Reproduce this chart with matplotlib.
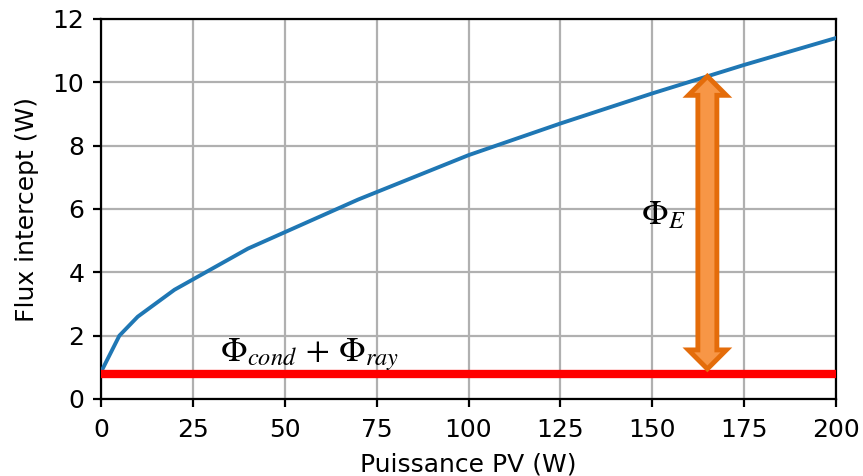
import numpy as np
import matplotlib
matplotlib.use("Agg")
import matplotlib.pyplot as plt
from matplotlib.patches import Polygon
from matplotlib.transforms import IdentityTransform

# Data
puissance = [0, 5, 10, 20, 40, 70, 100, 125, 150, 175, 200]
flux = [0.85, 2.0, 2.6, 3.45, 4.75, 6.3, 7.7, 8.7, 9.65, 10.55, 11.4]
flux_cond_ray = 0.8
arrow_x = 165
xticks = [0, 25, 50, 75, 100, 125, 150, 175, 200]
yticks = [0, 2, 4, 6, 8, 10, 12]

plt.rcParams['mathtext.fontset'] = 'stix'
fig = plt.figure(figsize=(8.63, 4.76), dpi=100)
ax = fig.add_axes([101/863, 1-399/476, 735/863, 380/476])

ax.plot(puissance, flux, color='#1f77b4', lw=2.8, zorder=3)
ax.plot([puissance[0], puissance[-1]], [flux_cond_ray, flux_cond_ray], color='#ff0000', lw=6, zorder=4, solid_capstyle='butt')

ax.set_xlim(0, 200)
ax.set_ylim(0, 12)
ax.set_xticks(xticks)
ax.set_yticks(yticks)
ax.grid(True, color='#b0b0b0', lw=1.6)
ax.set_axisbelow(True)
for s in ax.spines.values():
    s.set_linewidth(1.6)
ax.tick_params(labelsize=18, width=1.6, length=6)
ax.tick_params(axis='x', pad=8)
ax.tick_params(axis='y', pad=6)
ax.set_xlabel('Puissance PV (W)', fontsize=18, labelpad=7)
ax.set_ylabel('Flux intercept (W)', fontsize=18, labelpad=10)

# Double arrow (in display space)
fig.canvas.draw()
top = np.interp(arrow_x, puissance, flux)
bot = flux_cond_ray + 0.15
(xp, yb), = ax.transData.transform([(arrow_x, bot)])
(_, yt), = ax.transData.transform([(arrow_x, top)])
w, hw, hl = 9.5, 19, 19
pts = [(xp, yt), (xp + hw, yt - hl), (xp + w, yt - hl), (xp + w, yb + hl),
       (xp + hw, yb + hl), (xp, yb), (xp - hw, yb + hl), (xp - w, yb + hl),
       (xp - w, yt - hl), (xp - hw, yt - hl)]
arrow = Polygon(pts, closed=True, transform=IdentityTransform(),
                facecolor='#f79646', edgecolor='#e46c0a', lw=3.5, zorder=5,
                joinstyle='miter')
fig.add_artist(arrow)

ax.text(153, 5.85, r'$\Phi_E$', fontsize=25, ha='center', va='center', zorder=6)
ax.text(32.5, 1.2, r'$\Phi_{cond}\,+\,\Phi_{ray}$', fontsize=25, ha='left', va='baseline', zorder=6)

fig.savefig('out.png', dpi=100)
